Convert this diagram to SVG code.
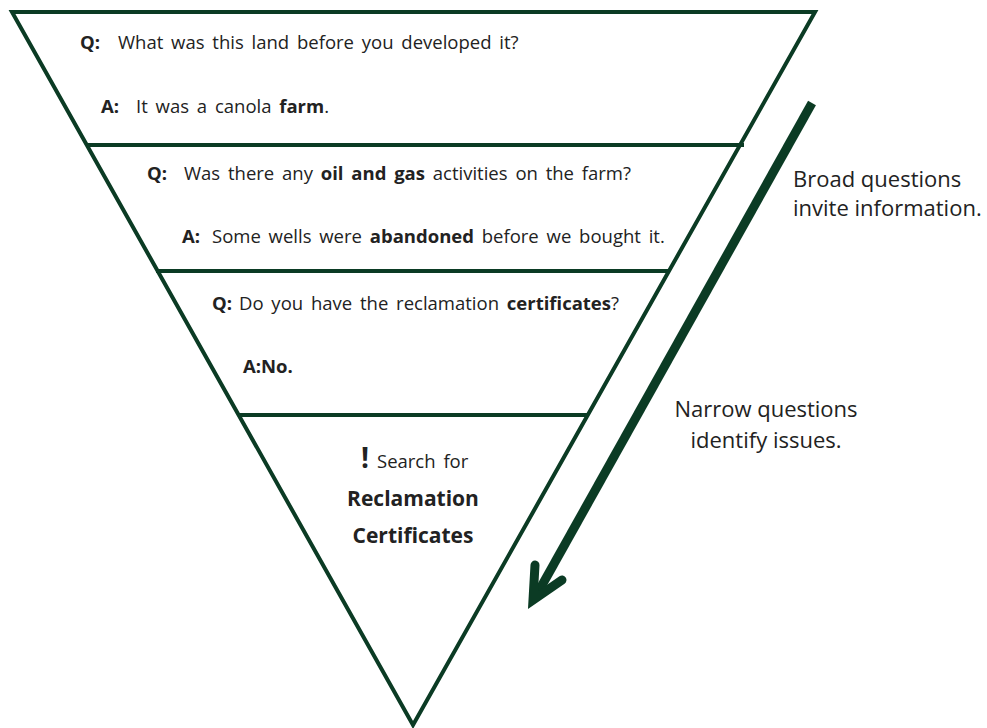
<svg xmlns="http://www.w3.org/2000/svg" width="987" height="728" viewBox="0 0 987 728">
<style>
.ln{fill:none;stroke:#0b3b24;stroke-width:4;stroke-linejoin:miter}
.t{font-family:"Open Sans",Lato,sans-serif;font-size:18.5px;word-spacing:3px;fill:#222}
.b{font-weight:bold}
.s{font-family:"Open Sans",Lato,sans-serif;font-size:22px;fill:#222}
.r{font-family:"Open Sans",Lato,sans-serif;font-size:21px;font-weight:bold;fill:#222}
</style>
<rect width="987" height="728" fill="#fff"/>
<g id="funnel">
<path class="ln" d="M12 12 L815 12 L413 725 Z"/>
</g>
<g id="level1">
<line class="ln" x1="86" y1="145" x2="744" y2="145"/>
<text class="t" y="49"><tspan class="b" x="80">Q:</tspan><tspan x="118">What was this land before you developed it?</tspan></text>
<text class="t" y="113"><tspan class="b" x="101">A:</tspan><tspan x="136">It was a canola </tspan><tspan class="b">farm</tspan><tspan>.</tspan></text>
</g>
<g id="level2">
<line class="ln" x1="156" y1="271" x2="669" y2="271"/>
<text class="t" y="180"><tspan class="b" x="147">Q:</tspan><tspan x="184">Was there any </tspan><tspan class="b">oil and gas</tspan><tspan> activities on the farm?</tspan></text>
<text class="t" y="243"><tspan class="b" x="182">A:</tspan><tspan x="212">Some wells were </tspan><tspan class="b">abandoned</tspan><tspan>  before we bought it.</tspan></text>
</g>
<g id="level3">
<line class="ln" x1="238" y1="415" x2="588" y2="415"/>
<text class="t" y="310"><tspan class="b" x="212">Q:</tspan><tspan x="239">Do you have the reclamation </tspan><tspan class="b">certificates</tspan><tspan>?</tspan></text>
<text class="t b" x="243" y="373">A:No.</text>
</g>
<g id="level4">
<text class="t" y="468"><tspan class="b" x="361" font-size="28">!</tspan><tspan x="377">Search for</tspan></text>
<text class="r" x="413" y="506" text-anchor="middle">Reclamation</text>
<text class="r" x="413" y="543" text-anchor="middle">Certificates</text>
</g>
<g id="connectors">
<line x1="812" y1="103" x2="536" y2="596" stroke="#0b3b24" stroke-width="9"/>
<polyline points="535,565 533,600 562,580" fill="none" stroke="#0b3b24" stroke-width="9" stroke-linecap="round" stroke-linejoin="miter"/>
</g>
<g id="labels">
<text class="s" x="793" y="187">Broad questions</text>
<text class="s" x="793" y="216">invite information.</text>
<text class="s" x="766" y="417" text-anchor="middle">Narrow questions</text>
<text class="s" x="766" y="448" text-anchor="middle">identify issues.</text>
</g>
</svg>
